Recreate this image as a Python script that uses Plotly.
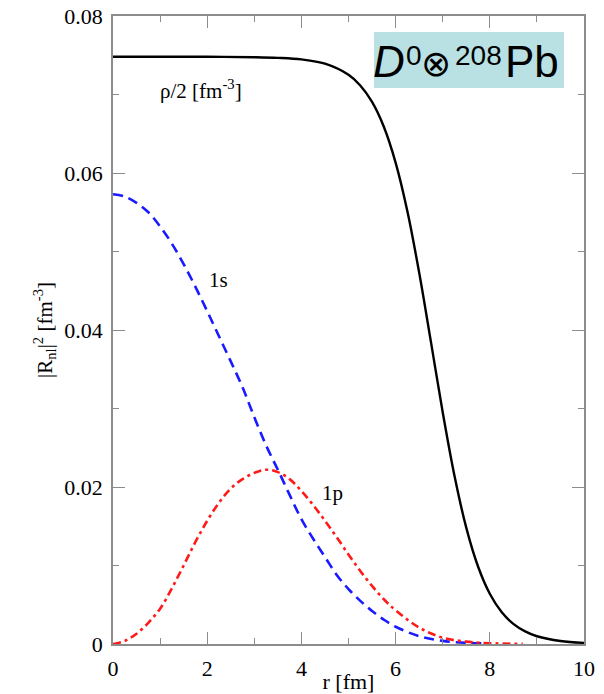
import plotly.graph_objects as go

# Half nuclear density rho/2 of 208Pb [fm^-3]
r_rho = [0, 1, 2, 3, 3.5, 4, 4.5, 5, 5.25, 5.5, 5.75, 6, 6.25, 6.5, 6.75,
         7, 7.25, 7.5, 7.75, 8, 8.25, 8.5, 8.75, 9, 9.5, 10]
rho_half = [0.0748, 0.0748, 0.0748, 0.07475, 0.07467, 0.07447, 0.07392, 0.07251,
            0.07115, 0.06905, 0.06589, 0.06132, 0.05512, 0.04732, 0.03849,
            0.02953, 0.02143, 0.01482, 0.00987, 0.0064, 0.00407, 0.00256,
            0.0016, 0.00099, 0.00038, 0.00014]

# D0 bound-state radial densities |R_nl|^2 [fm^-3]
r_1s = [0, 0.25, 0.5, 0.75, 1.0, 1.25, 1.5, 1.75, 2.0, 2.25, 2.5, 2.75, 3.0,
        3.25, 3.5, 3.75, 4.0, 4.25, 4.5, 4.75, 5.0, 5.25, 5.5, 5.75, 6.0,
        6.5, 7.0, 7.5, 8.0]
dens_1s = [0.0573, 0.0570, 0.0562, 0.0550, 0.0532, 0.0510, 0.0484, 0.0455,
           0.0424, 0.0392, 0.0360, 0.0327, 0.0289, 0.0253, 0.0222, 0.0190,
           0.0159, 0.0134, 0.0111, 0.0088, 0.0070, 0.0055, 0.0042, 0.0031,
           0.0022, 0.0010, 0.0004, 0.00015, 0.00005]

r_1p = [0, 0.25, 0.5, 0.75, 1.0, 1.25, 1.5, 1.75, 2.0, 2.25, 2.5, 2.75, 3.0,
        3.25, 3.5, 3.75, 4.0, 4.25, 4.5, 4.75, 5.0, 5.25, 5.5, 5.75, 6.0,
        6.5, 7.0, 7.5, 8.0, 8.7]
dens_1p = [0, 0.0004, 0.0013, 0.0027, 0.0045, 0.0071, 0.0100, 0.0130, 0.0157,
           0.0180, 0.0198, 0.0210, 0.0218, 0.0222, 0.0219, 0.0210, 0.0195,
           0.0177, 0.0157, 0.0136, 0.0114, 0.0093, 0.0074, 0.0057, 0.0043,
           0.0021, 0.0008, 0.0003, 0.0001, 0.00002]

x_ticks = [0, 2, 4, 6, 8, 10]
x_tick_text = ["0", "2", "4", "6", "8", "10"]
y_ticks = [0, 0.02, 0.04, 0.06, 0.08]
y_tick_text = ["0", "0.02", "0.04", "0.06", "0.08"]

SERIF = "Liberation Serif, Times New Roman, serif"
SANS = "Liberation Sans, Arial, sans-serif"
AXIS_GREY = "#8c8c8c"

W, H = 604, 694
ML, MR, MT, MB = 113, 20, 16, 50
PW, PH = W - ML - MR, H - MT - MB


def px_x(p):
    return (p - ML) / PW


def px_y(p):
    return (H - MB - p) / PH


fig = go.Figure()
fig.add_trace(go.Scatter(x=r_rho, y=rho_half, mode="lines",
                         line=dict(color="black", width=2.4, shape="spline"),
                         showlegend=False))
fig.add_trace(go.Scatter(x=r_1s, y=dens_1s, mode="lines",
                         line=dict(color="#1a1aff", width=2.6, dash="10px,6px",
                                   shape="spline"),
                         showlegend=False))
fig.add_trace(go.Scatter(x=r_1p, y=dens_1p, mode="lines",
                         line=dict(color="#ff1a1a", width=2.6,
                                   dash="8px,4px,3px,4px", shape="spline"),
                         showlegend=False))

tick_font = dict(family=SERIF, size=22, color="black")
axis_common = dict(
    showgrid=False, zeroline=False, showline=True, linecolor=AXIS_GREY,
    linewidth=1.5, mirror="ticks", ticks="inside", tickcolor=AXIS_GREY,
    tickwidth=1.3, ticklen=12, automargin=False, tickfont=tick_font,
    ticklabelstandoff=4, tickmode="array",
)

fig.update_xaxes(range=[0, 10], tickvals=x_ticks, ticktext=x_tick_text,
                 minor=dict(dtick=1, ticks="inside", ticklen=6,
                            tickcolor=AXIS_GREY, tickwidth=1.3),
                 title=dict(text="r [fm]", font=dict(family=SERIF, size=22,
                                                      color="black"),
                            standoff=0),
                 **axis_common)
fig.update_yaxes(range=[0, 0.08], tickvals=y_ticks, ticktext=y_tick_text,
                 minor=dict(dtick=0.01, ticks="inside", ticklen=6,
                            tickcolor=AXIS_GREY, tickwidth=1.3),
                 title=dict(text="|R<sub>nl</sub>|<sup>2</sup> [fm<sup>-3</sup>]",
                            font=dict(family=SERIF, size=21, color="black"),
                            standoff=6),
                 **axis_common)

label_font = dict(family=SERIF, size=21, color="black")
fig.add_annotation(x=1.87, y=0.0706, text="ρ/2 [fm<sup>-3</sup>]",
                   showarrow=False, font=label_font)
fig.add_annotation(x=2.23, y=0.0464, text="1s", showarrow=False,
                   font=label_font)
fig.add_annotation(x=4.67, y=0.0193, text="1p", showarrow=False,
                   font=label_font)

# System label in a tinted box, top right
fig.add_shape(type="rect", xref="paper", yref="paper",
              x0=px_x(374), x1=px_x(564), y0=px_y(88), y1=px_y(32),
              fillcolor="#b9e0e3", line=dict(width=0), layer="above")

box_parts = [
    # (text, left edge px, vertical centre px, size)
    ("<i>D</i>", 372, 62, 44),
    ("0", 405, 55, 28),
    ("⊗", 420, 64, 36),
    ("208", 454, 55, 28),
    ("Pb", 504, 62, 44),
]
for txt, left, mid, size in box_parts:
    fig.add_annotation(xref="paper", yref="paper", x=px_x(left), y=px_y(mid),
                       text=txt, showarrow=False, xanchor="left",
                       yanchor="middle", borderpad=0,
                       font=dict(family=SANS, size=size, color="black"))

fig.update_layout(width=W, height=H,
                  margin=dict(l=ML, r=MR, t=MT, b=MB),
                  font=dict(family=SERIF, size=21, color="black"),
                  paper_bgcolor="white", plot_bgcolor="white")

fig.write_html("out.html")
